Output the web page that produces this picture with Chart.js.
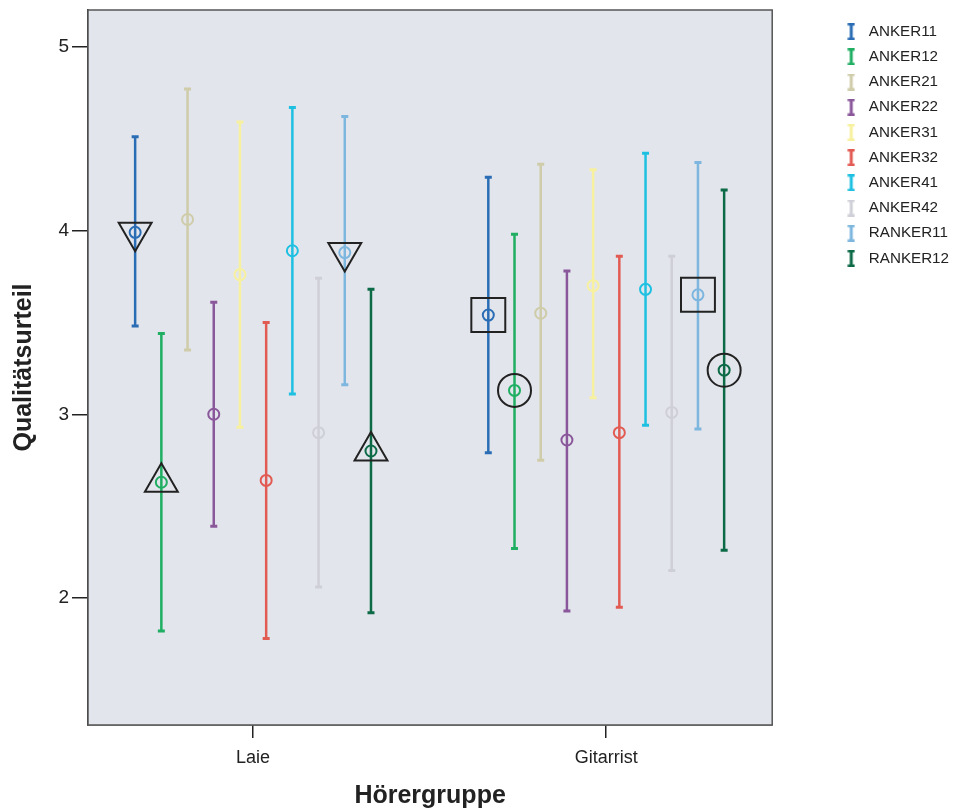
<!DOCTYPE html>
<html>
<head>
<meta charset="utf-8">
<script src="https://cdn.jsdelivr.net/npm/chart.js@4.4.0/dist/chart.umd.min.js"></script>
<style>
  html, body { margin: 0; padding: 0; background: #fff; }
</style>
</head>
<body>
<canvas id="myChart" width="955" height="809"></canvas>
<script>
// data
const groups = ['Laie', 'Gitarrist'];
const seriesNames = ['ANKER11', 'ANKER12', 'ANKER21', 'ANKER22', 'ANKER31', 'ANKER32', 'ANKER41', 'ANKER42', 'RANKER11', 'RANKER12'];
const meanLaie = [3.99, 2.63, 4.06, 3.00, 3.76, 2.64, 3.89, 2.90, 3.88, 2.80];
const lowLaie  = [3.48, 1.82, 3.35, 2.39, 2.93, 1.78, 3.11, 2.06, 3.16, 1.92];
const highLaie = [4.51, 3.44, 4.77, 3.61, 4.59, 3.50, 4.67, 3.74, 4.62, 3.68];
const meanGit  = [3.54, 3.13, 3.55, 2.86, 3.70, 2.90, 3.68, 3.01, 3.65, 3.24];
const lowGit   = [2.79, 2.27, 2.75, 1.93, 3.09, 1.95, 2.94, 2.15, 2.92, 2.26];
const highGit  = [4.29, 3.98, 4.36, 3.78, 4.33, 3.86, 4.42, 3.86, 4.37, 4.22];
const yTicks = [2, 3, 4, 5];

// the four series that get an extra black marker
const markedSeries = [0, 1, 8, 9];

// styles
const seriesColors = ['#2a6db5', '#1fae62', '#cfcca9', '#8a579b', '#f7f19f', '#e25b53', '#1ec0e2', '#cfd0d7', '#7db6de', '#0d6a47'];
const markerLaie = ['triangleDown', 'triangle', 'triangleDown', 'triangle'];
const markerGit = ['rect', 'circle', 'rect', 'circle'];
const FONT = "'Liberation Sans', Arial, sans-serif";
const step = 0.0742;

function xPos(g, i) {
  return (g + 1) + (i - 4.5) * step;
}

function legendIcon(color) {
  var c = document.createElement('canvas');
  c.width = 8; c.height = 17;
  var ctx = c.getContext('2d');
  ctx.fillStyle = color;
  ctx.fillRect(2.5, 0, 3, 17);
  ctx.fillRect(0.5, 0, 7, 2.5);
  ctx.fillRect(0.5, 14.5, 7, 2.5);
  return c;
}

var datasets = [];

// error bars
seriesNames.forEach(function(name, i) {
  datasets.push({
    label: name,
    data: [
      {x: xPos(0, i), y: lowLaie[i]}, {x: xPos(0, i), y: highLaie[i]},
      {x: 1.5, y: null},
      {x: xPos(1, i), y: lowGit[i]}, {x: xPos(1, i), y: highGit[i]}
    ],
    showLine: true,
    spanGaps: false,
    borderColor: seriesColors[i],
    borderWidth: 2.5,
    pointStyle: 'line',
    pointRadius: 3.5,
    pointBorderWidth: 3,
    pointBorderColor: seriesColors[i],
    pointHoverRadius: 3.5,
    order: 2
  });
});

// means
seriesNames.forEach(function(name, i) {
  datasets.push({
    label: name + ' mean',
    data: [{x: xPos(0, i), y: meanLaie[i]}, {x: xPos(1, i), y: meanGit[i]}],
    showLine: false,
    pointStyle: 'circle',
    pointRadius: 5.5,
    pointBorderWidth: 2,
    pointBorderColor: seriesColors[i],
    pointBackgroundColor: 'rgba(0,0,0,0)',
    order: 1
  });
});

// black markers
var mData = [], mStyle = [], mRot = [], mRad = [];
markedSeries.forEach(function(i, k) {
  [markerLaie[k], markerGit[k]].forEach(function(st, g) {
    mData.push({x: xPos(g, i), y: g === 0 ? meanLaie[i] : meanGit[i]});
    if (st === 'triangleDown') { mStyle.push('triangle'); mRot.push(180); mRad.push(19); }
    else if (st === 'triangle') { mStyle.push('triangle'); mRot.push(0); mRad.push(19); }
    else if (st === 'rect') { mStyle.push('rect'); mRot.push(0); mRad.push(24); }
    else { mStyle.push('circle'); mRot.push(0); mRad.push(16.5); }
  });
});
datasets.push({
  label: 'markers',
  data: mData,
  showLine: false,
  pointStyle: mStyle,
  pointRotation: mRot,
  pointRadius: mRad,
  pointHoverRadius: mRad,
  pointBorderWidth: 2,
  pointBorderColor: '#222',
  pointBackgroundColor: 'rgba(0,0,0,0)',
  order: 0
});

const plotBack = {
  id: 'plotBack',
  beforeDatasetsDraw: function(chart) {
    var a = chart.chartArea, ctx = chart.ctx;
    ctx.save();
    ctx.fillStyle = '#e2e5eb';
    ctx.fillRect(a.left, a.top, a.right - a.left, a.bottom - a.top);
    ctx.restore();
  },
  afterDraw: function(chart) {
    var a = chart.chartArea, ctx = chart.ctx;
    ctx.save();
    ctx.strokeStyle = '#555';
    ctx.lineWidth = 1.5;
    ctx.strokeRect(a.left, a.top, a.right - a.left, a.bottom - a.top);
    ctx.restore();
  }
};

var ctx = document.getElementById('myChart').getContext('2d');
var myChart = new Chart(ctx, {
  type: 'scatter',
  data: { datasets: datasets },
  plugins: [plotBack],
  options: {
    responsive: false,
    animation: false,
    layout: { autoPadding: false, padding: { top: 10, left: 0, right: -4, bottom: 0 } },
    plugins: {
      tooltip: { enabled: false },
      legend: {
        position: 'right',
        align: 'start',
        title: { display: true, text: '', font: { size: 1, lineHeight: 1 }, padding: { top: 3, bottom: 0 } },
        labels: {
          usePointStyle: true,
          pointStyleWidth: 20,
          padding: 10,
          color: '#222',
          font: { family: FONT, size: 15.2 },
          generateLabels: function(chart) {
            return seriesNames.map(function(n, i) {
              return { text: n, datasetIndex: i, pointStyle: legendIcon(seriesColors[i]), fillStyle: seriesColors[i], strokeStyle: 'rgba(0,0,0,0)', lineWidth: 0, hidden: false, fontColor: '#222' };
            });
          }
        }
      }
    },
    scales: {
      x: {
        type: 'linear',
        min: 0.5326,
        max: 2.470,
        afterBuildTicks: function(s) { s.ticks = groups.map(function(g, i) { return {value: i + 1}; }); },
        afterFit: function(s) { s.height = 84; },
        ticks: {
          color: '#222',
          font: { family: FONT, size: 18 },
          padding: 9,
          autoSkip: false,
          maxRotation: 0,
          callback: function(v) { return groups[Math.round(v) - 1]; }
        },
        grid: { display: true, drawOnChartArea: false, drawTicks: true, tickLength: 13, color: '#222', lineWidth: 1.5 },
        border: { display: true, color: '#333', width: 1.5 },
        title: { display: true, text: 'Hörergruppe', color: '#222', font: { family: FONT, size: 25, weight: 'bold', lineHeight: 1 }, padding: { top: 0, bottom: 0 } }
      },
      y: {
        type: 'linear',
        min: 1.309,
        max: 5.20,
        afterBuildTicks: function(s) { s.ticks = yTicks.map(function(v) { return {value: v}; }); },
        afterFit: function(s) { s.width = 88; },
        ticks: { color: '#222', font: { family: FONT, size: 19, lineHeight: 0.737 }, padding: 3 },
        grid: { display: true, drawOnChartArea: false, drawTicks: true, tickLength: 16, color: '#222', lineWidth: 1.5 },
        border: { display: true, color: '#333', width: 1.5 },
        title: { display: true, text: 'Qualitätsurteil', color: '#222', font: { family: FONT, size: 25, weight: 'bold', lineHeight: 1 }, padding: { top: 11.5, bottom: 0 } }
      },
      gap: {
        type: 'linear',
        position: 'right',
        display: true,
        afterFit: function(s) { s.width = 59; },
        ticks: { display: false },
        grid: { display: false },
        border: { display: false }
      }
    }
  }
});
</script>
</body>
</html>
